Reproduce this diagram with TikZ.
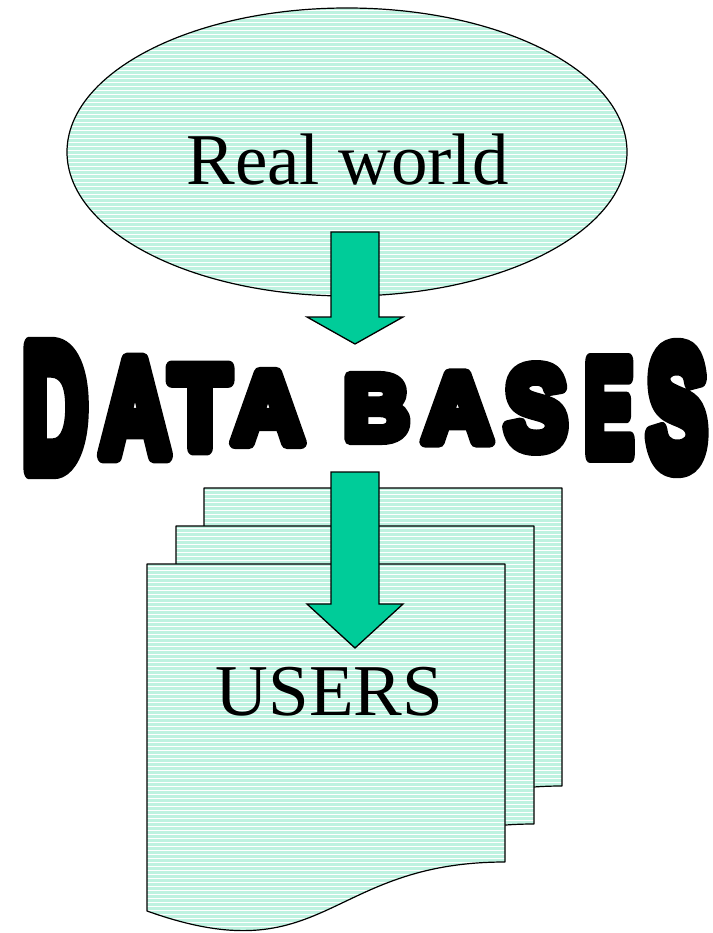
\documentclass[tikz,border=0pt]{standalone}
\usepackage{fontspec}
\setmainfont{Liberation Serif}
\newfontfamily\bannerfont{Liberation Sans}[FakeBold=12]
\usetikzlibrary{shapes.geometric}
\definecolor{mint}{RGB}{190,242,224}
\definecolor{sea}{RGB}{0,204,153}

\tikzset{
  stripes/.style    = {fill=mint, path picture={
      \foreach \y in {2,6,...,440}
        \fill[white] ([yshift=-\y pt]path picture bounding box.north west)
          rectangle ++(720pt,-1.2pt);}},
  doc page/.style   = {stripes, draw, line width=1.2pt, line join=round},
  block arrow/.style = {fill=sea, draw, line width=1.3pt, line join=miter},
  big text/.style   = {font=\fontsize{73}{80}\selectfont, inner sep=0, anchor=base},
  letter/.style     = {inner sep=0, anchor=center},
}

\def\drawpage{
   \draw[doc page] (0,0) -- (358,0) -- (358,298)
      .. controls (179,298) and (179,411) .. (0,347) -- cycle;
}
% shaft top, head base, tip
\newcommand\blockarrow[3]{
   \draw[block arrow] (331,#1) -- (379,#1) -- (379,#2) -- (403,#2)
      -- (355,#3) -- (307,#2) -- (331,#2) -- cycle;
}
% letter, width, height (the fake bold stroke is kept inside the box)
\newlength\fbe \setlength\fbe{0.65pt}
\newcommand\bannerletter[3]{\pgfsetroundjoin
   \resizebox*{#2pt}{#3pt}{\fontsize{10}{12}\bannerfont\bfseries
   \raisebox{0pt}[\dimexpr\height+\fbe][\dimexpr\depth+\fbe]{\kern\fbe#1\kern\fbe}}}

\begin{document}
\begin{tikzpicture}[x=1pt,y=-1pt]
\useasboundingbox (0,0) rectangle (712,933);

\node[ellipse, stripes, draw, line width=1.2pt, inner sep=0,
      minimum width=560, minimum height=288] (world) at (347,152) {};
\node[big text] (world text) at (347.5,185) {Real world};

\blockarrow{232}{317}{344}

% the banner, one letter at a time
\foreach[count=\n] \ch/\cx/\w/\h in {D/55/76/144, A/135/82/112, T/200/72/96,
      A/268/84/83, B/376.5/77/75, A/457.5/82/80, S/536/74/97, E/609/58/111,
      S/677/71/142}
  \node[letter] (letter\n) at (\cx,408) {\bannerletter{\ch}{\w}{\h}};

\begin{scope}[shift={(204,488)}]
  \drawpage
\end{scope}
\begin{scope}[shift={(176,526)}]
  \drawpage
\end{scope}
\begin{scope}[shift={(147,564)}]
  \drawpage
\end{scope}

\blockarrow{472}{604}{648}
\node[big text] (users) at (329.5,715) {USERS};

\end{tikzpicture}
\end{document}
